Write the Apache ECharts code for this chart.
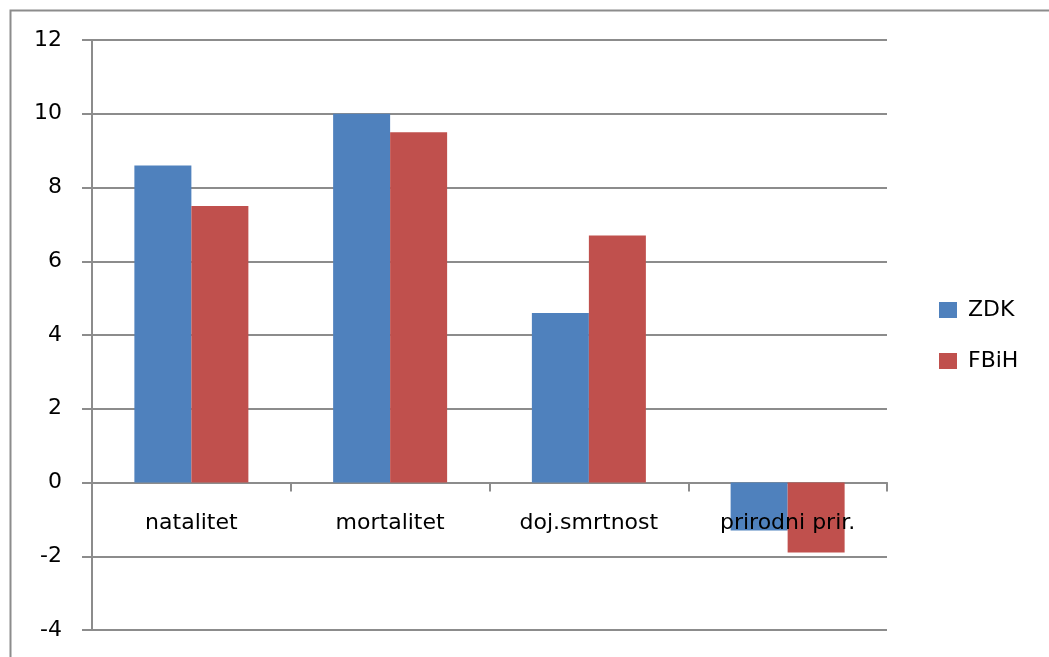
<!DOCTYPE html>
<html>
<head>
<meta charset="utf-8">
<script src="https://cdn.jsdelivr.net/npm/echarts@6/dist/echarts.min.js"></script>
<style>
	html, body { margin: 0; padding: 0; background: #fff; }
	#chart { width: 1049px; height: 657px; }
</style>
</head>
<body>
<div id="chart"></div>
<script>
	// kategorije i vrijednosti
	var categories = ['natalitet', 'mortalitet', 'doj.smrtnost', 'prirodni prir.'];
	var zdk = [8.6, 10.0, 4.6, -1.3];
	var fbih = [7.5, 9.5, 6.7, -1.9];
	var seriesNames = ['ZDK', 'FBiH'];
	var yMin = -4, yMax = 12;

	var lineColor = '#8c8c8c';
	var fontFamily = '"DejaVu Sans", "Noto Sans", sans-serif';
	var gridTop = 40, gridBottom = 27, chartH = 657;

	// pomak gornje osi tako da padne na nulu
	var plotH = chartH - gridTop - gridBottom;
	var zeroOffset = -(yMax / (yMax - yMin)) * plotH;

	var myChart = echarts.init(document.getElementById('chart'));
	myChart.setOption({
		animation: false,
		color: ['#4F81BD', '#C0504D'],
		textStyle: { fontFamily: fontFamily },
		graphic: [{
			type: 'rect',
			left: 8,
			top: 8,
			shape: { width: 1200, height: 800 },
			style: { fill: 'none', stroke: lineColor, lineWidth: 2 },
			silent: true
		}],
		grid: {
			left: 92,
			top: gridTop,
			right: 162,
			bottom: gridBottom,
			outerBoundsMode: 'none',
			containLabel: false
		},
		legend: {
			orient: 'vertical',
			left: 934,
			top: 294,
			itemWidth: 18,
			itemHeight: 16,
			itemGap: 29,
			icon: 'rect',
			data: seriesNames,
			textStyle: { fontSize: 22, color: '#000', fontFamily: fontFamily, padding: [0, 0, 0, 6] }
		},
		xAxis: [{
			type: 'category',
			data: categories,
			axisLine: { onZero: true, lineStyle: { color: lineColor, width: 2 } },
			axisTick: { show: true, length: 9, lineStyle: { color: lineColor, width: 2 } },
			axisLabel: { show: false },
			splitLine: { show: false }
		}, {
			// samo za natpise kategorija ispod nulte linije
			type: 'category',
			data: categories,
			position: 'top',
			offset: zeroOffset,
			z: 10,
			axisLine: { show: false },
			axisTick: { show: false },
			axisLabel: { inside: true, color: '#000', fontSize: 22, margin: 30, fontFamily: fontFamily },
			splitLine: { show: false }
		}],
		yAxis: {
			type: 'value',
			min: yMin,
			max: yMax,
			interval: 2,
			axisLine: { show: true, lineStyle: { color: lineColor, width: 2 } },
			axisTick: { show: true, length: 10, lineStyle: { color: lineColor, width: 2 } },
			axisLabel: { color: '#000', fontSize: 22, margin: 30, fontFamily: fontFamily },
			splitLine: { show: true, lineStyle: { color: lineColor, width: 2 } }
		},
		series: [{
			name: seriesNames[0],
			type: 'bar',
			data: zdk,
			barWidth: 57,
			barGap: '0%',
			z: 1
		}, {
			name: seriesNames[1],
			type: 'bar',
			data: fbih,
			barWidth: 57,
			barGap: '0%',
			z: 1
		}]
	});
</script>
</body>
</html>
